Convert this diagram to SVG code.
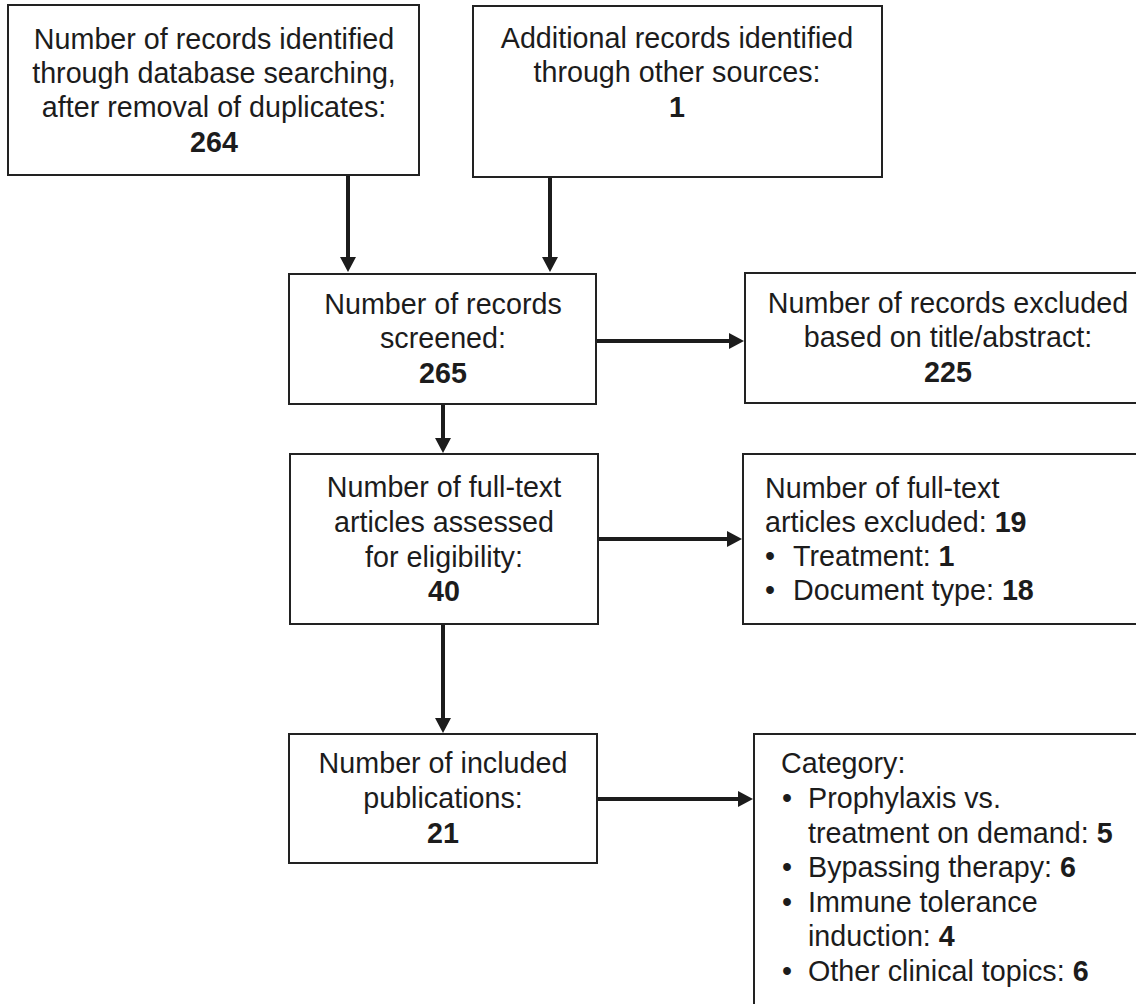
<svg xmlns="http://www.w3.org/2000/svg" width="1136" height="1004" viewBox="0 0 1136 1004">
<style>
.box{fill:#fff;stroke:#222;stroke-width:2}
.t{font-family:"Liberation Sans",Arial,sans-serif;font-size:28.7px;fill:#1c1c1c}
.c{text-anchor:middle}
.b{font-weight:bold}
.arr{stroke:#1c1c1c;stroke-width:4;fill:none}
</style>
<defs>
<marker id="ah" markerUnits="userSpaceOnUse" markerWidth="16" markerHeight="16" refX="3" refY="8" orient="auto">
<path d="M0,0 L15,8 L0,16 z" fill="#1c1c1c"/>
</marker>
</defs>
<rect width="1136" height="1004" fill="#fff"/>
<g id="connectors">
<line class="arr" x1="348" y1="175" x2="348" y2="260" marker-end="url(#ah)"/>
<line class="arr" x1="550" y1="177" x2="550" y2="260" marker-end="url(#ah)"/>
<line class="arr" x1="596" y1="341" x2="732" y2="341" marker-end="url(#ah)"/>
<line class="arr" x1="443" y1="404" x2="443" y2="441" marker-end="url(#ah)"/>
<line class="arr" x1="598" y1="539" x2="730" y2="539" marker-end="url(#ah)"/>
<line class="arr" x1="443" y1="624" x2="443" y2="721" marker-end="url(#ah)"/>
<line class="arr" x1="597" y1="799" x2="741" y2="799" marker-end="url(#ah)"/>
</g>
<g id="n1">
<rect class="box" x="8" y="5" width="411" height="170"/>
<text class="t c" x="214" y="49">Number of records identified</text>
<text class="t c" x="214" y="83">through database searching,</text>
<text class="t c" x="214" y="117">after removal of duplicates:</text>
<text class="t c b" x="214" y="152">264</text>
</g>
<g id="n2">
<rect class="box" x="473" y="6" width="409" height="171"/>
<text class="t c" x="677" y="48">Additional records identified</text>
<text class="t c" x="677" y="82">through other sources:</text>
<text class="t c b" x="677" y="117">1</text>
</g>
<g id="n3">
<rect class="box" x="289" y="274" width="307" height="130"/>
<text class="t c" x="443" y="314">Number of records</text>
<text class="t c" x="443" y="348">screened:</text>
<text class="t c b" x="443" y="383">265</text>
</g>
<g id="n4">
<rect class="box" x="745" y="273" width="420" height="130"/>
<text class="t c" x="948" y="313">Number of records excluded</text>
<text class="t c" x="948" y="347">based on title/abstract:</text>
<text class="t c b" x="948" y="382">225</text>
</g>
<g id="n5">
<rect class="box" x="290" y="454" width="308" height="170"/>
<text class="t c" x="444" y="497">Number of full-text</text>
<text class="t c" x="444" y="532">articles assessed</text>
<text class="t c" x="444" y="567">for eligibility:</text>
<text class="t c b" x="444" y="601">40</text>
</g>
<g id="n6">
<rect class="box" x="743" y="454" width="420" height="170"/>
<text class="t" x="765" y="498">Number of full-text</text>
<text class="t" x="765" y="532">articles excluded: <tspan class="b">19</tspan></text>
<text class="t" x="765" y="566">•</text>
<text class="t" x="793" y="566">Treatment: <tspan class="b">1</tspan></text>
<text class="t" x="765" y="600">•</text>
<text class="t" x="793" y="600">Document type: <tspan class="b">18</tspan></text>
</g>
<g id="n7">
<rect class="box" x="289" y="734" width="308" height="129"/>
<text class="t c" x="443" y="773">Number of included</text>
<text class="t c" x="443" y="808">publications:</text>
<text class="t c b" x="443" y="843">21</text>
</g>
<g id="n8">
<rect class="box" x="754" y="734" width="420" height="300"/>
<text class="t" x="781" y="773">Category:</text>
<text class="t" x="782" y="808">•</text>
<text class="t" x="808" y="808">Prophylaxis vs.</text>
<text class="t" x="808" y="843">treatment on demand: <tspan class="b">5</tspan></text>
<text class="t" x="782" y="877">•</text>
<text class="t" x="808" y="877">Bypassing therapy: <tspan class="b">6</tspan></text>
<text class="t" x="782" y="912">•</text>
<text class="t" x="808" y="912">Immune tolerance</text>
<text class="t" x="808" y="946">induction: <tspan class="b">4</tspan></text>
<text class="t" x="782" y="981">•</text>
<text class="t" x="808" y="981">Other clinical topics: <tspan class="b">6</tspan></text>
</g>
</svg>
